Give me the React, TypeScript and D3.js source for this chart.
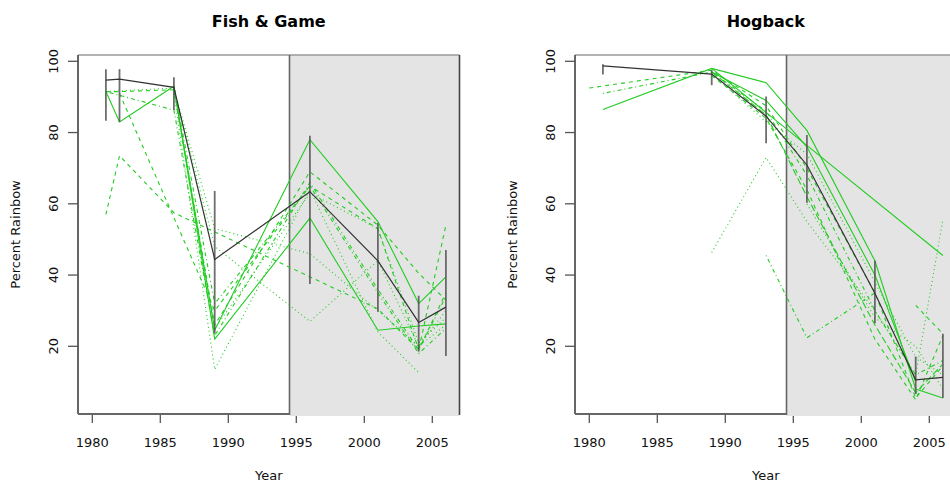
import React from "react";
import * as d3 from "d3";

// ---------- Data ----------
const xTicks = [1980, 1985, 1990, 1995, 2000, 2005];
const yTicks = [20, 40, 60, 80, 100];
const panelTitles = ["Fish & Game", "Hogback"];

// Fish & Game
const fgYears = [1981, 1982, 1986, 1989, 1996, 2001, 2004, 2006];
const fgMean = [94.7, 95, 92.7, 44.4, 63.4, 44, 26.7, 31];
const fgLow = [83.3, 83, 86.3, 23.7, 37.5, 29.7, 18.5, 17.3];
const fgHigh = [97.8, 97.8, 95.5, 63.6, 79.1, 54.7, 34.2, 47];
const fgSiteYears = [1981, 1982, 1986, 1989, 1996, 2001, 2004, 2006];
const fgSites: (number | null)[][] = [
  [91.5, 83, 93, 24.5, 78, 55, 32, 39.5],
  [91.5, 91.5, 92, 26, 69, 54, 40.5, 33],
  [91.5, null, 86.3, 23, 66, 36, 19, 34],
  [57, 73.5, 57.5, null, null, 30.5, 19, 54],
  [null, null, 92, 53, 46, 30, 20, 26],
  [null, null, 93, 22, 56, 24.5, 25.7, 26.3],
  [null, null, 91, 13.5, 64, 24, 12.6, null],
  [null, null, 92, 48, 27, 44, 20, 30],
  [null, 91, null, 30, 65, 53, 19, 35],
  [null, null, 93, 32, 65, 35, 18, 25],
  [91.5, null, 92.5, 25, 63, 53, 21, 28],
];
const fgTypes = ["solid", "dashed", "dotdash", "dashed", "dotted", "solid", "dotted", "dotted", "dashed", "dotdash", "dotted"];

// Hogback
const hbYears = [1981, 1989, 1993, 1996, 2001, 2004, 2006];
const hbMean = [98.7, 96.4, 84.6, 70.9, 34.9, 10.6, 11.3];
const hbLow = [96.3, 93.3, 77, 60.3, 26.5, 6.6, 5.5];
const hbHigh = [99.2, 97.6, 90.1, 79.3, 44, 17.1, 23.5];
const hbSiteYears = [1980, 1981, 1989, 1993, 1996, 2001, 2004, 2006];
const hbSites: (number | null)[][] = [
  [null, 86.5, 98, 94, 80.6, 44, 8, 5.5],
  [null, null, 98, null, null, null, null, 45.5],
  [92.5, null, 97.5, 87.5, 70, 35, 5.5, 14.5],
  [null, 91, 97, 86, 68, 30, 12, 16],
  [null, null, 46.3, 73, 55, 30, 12, 55.5],
  [null, null, null, 45.5, 22.4, 35, null, null],
  [null, null, 97, 89, 76, 40, 10, null],
  [null, null, 96, 84, 64, 22, 5, 23],
  [null, null, 97, 85, 62, 26, 7, 15],
  [null, null, 96.5, 83, 74, 38, 17, 12],
  [null, null, null, null, null, null, 31.5, 23.5],
  [null, null, null, null, 60, 28, 20, 8],
];
const hbTypes = ["solid", "solid", "dashed", "dotdash", "dotted", "dotdash", "solid", "dashed", "longdash", "dotted", "dashed", "dotted"];

// ---------- Styling ----------
const dashMap: Record<string, string | undefined> = {
  solid: undefined,
  dashed: "4,4",
  dotted: "1,3",
  dotdash: "1,3,4,3",
  longdash: "7,3",
};
const GREEN = "#22cc22";
const FONT = "DejaVu Sans, Liberation Sans, sans-serif";

type PanelProps = {
  dx: number;
  title: string;
  meanYears: number[];
  mean: number[];
  low: number[];
  high: number[];
  siteYears: number[];
  sites: (number | null)[][];
  types: string[];
};

function Panel({ dx, title, meanYears, mean, low, high, siteYears, sites, types }: PanelProps) {
  const x = d3.scaleLinear().domain([1980, 2005]).range([92.3 + dx, 432.3 + dx]);
  const y = d3.scaleLinear().domain([20, 100]).range([346.3, 61.3]);
  const left = 78 + dx;
  const top = 55;
  const bottom = 414;
  const boxRight = x(1994.5);
  const right = x(2007);
  const cx = (left + right) / 2;
  const cy = (top + bottom) / 2;

  const line = d3
    .line<[number, number]>()
    .x((d) => x(d[0]))
    .y((d) => y(d[1]));

  return (
    <g>
      {/* x ticks */}
      {xTicks.map((t) => (
        <line key={"xt" + t} x1={x(t)} x2={x(t)} y1={bottom} y2={bottom + 9} stroke="#555" strokeWidth={1.3} />
      ))}
      {/* gray region */}
      <rect x={boxRight} y={top} width={right - boxRight} height={bottom + 2 - top} fill="#e4e4e4" />
      {/* frame */}
      <line x1={left} x2={right} y1={top} y2={top} stroke="#9a9a9a" strokeWidth={1.3} />
      <line x1={left} x2={left} y1={top} y2={bottom} stroke="#666" strokeWidth={2} />
      <line x1={left} x2={boxRight} y1={bottom} y2={bottom} stroke="#666" strokeWidth={2} />
      <line x1={boxRight} x2={boxRight} y1={top} y2={bottom + 1} stroke="#666" strokeWidth={1.6} />
      <line x1={right} x2={right} y1={top} y2={bottom + 1} stroke="#444" strokeWidth={1.6} />

      {/* y ticks */}
      {yTicks.map((t) => (
        <line key={"yt" + t} x1={left - 10} x2={left} y1={y(t)} y2={y(t)} stroke="#555" strokeWidth={1.3} />
      ))}
      {yTicks.map((t) => (
        <text
          key={"yl" + t}
          transform={`translate(${left - 20},${y(t)}) rotate(-90)`}
          textAnchor="middle"
          fontFamily={FONT}
          fontSize={13}
          fill="#111"
        >
          {t}
        </text>
      ))}
      {xTicks.map((t) => (
        <text key={"xl" + t} x={x(t)} y={447} textAnchor="middle" fontFamily={FONT} fontSize={13} fill="#111">
          {t}
        </text>
      ))}

      {/* site lines */}
      {sites.map((vals, i) => {
        const pts: [number, number][] = [];
        vals.forEach((v, j) => {
          if (v != null) pts.push([siteYears[j], v]);
        });
        return (
          <path
            key={"s" + i}
            d={line(pts) || ""}
            fill="none"
            stroke={GREEN}
            strokeWidth={1.1}
            strokeDasharray={dashMap[types[i]]}
          />
        );
      })}

      {/* error bars */}
      {meanYears.map((yr, i) => (
        <line
          key={"eb" + i}
          x1={x(yr)}
          x2={x(yr)}
          y1={y(low[i])}
          y2={y(high[i])}
          stroke="#555"
          strokeOpacity={0.85}
          strokeWidth={1.8}
        />
      ))}
      {/* mean line */}
      <path
        d={line(meanYears.map((yr, i) => [yr, mean[i]] as [number, number])) || ""}
        fill="none"
        stroke="#333"
        strokeWidth={1.2}
      />

      {/* titles & labels */}
      <text x={cx} y={27} textAnchor="middle" fontFamily={FONT} fontWeight="bold" fontSize={16} fill="#000">
        {title}
      </text>
      <text x={cx} y={480} textAnchor="middle" fontFamily={FONT} fontSize={13} fill="#111">
        Year
      </text>
      <text
        transform={`translate(${left - 58},${cy}) rotate(-90)`}
        textAnchor="middle"
        fontFamily={FONT}
        fontSize={13}
        fill="#111"
      >
        Percent Rainbow
      </text>
    </g>
  );
}

export default function App() {
  return (
    <svg
      width={950}
      height={483}
      style={{ position: "absolute", left: 0, top: 0, background: "#fff" }}
    >
      <rect x={0} y={0} width={950} height={483} fill="#fff" />
      <Panel
        dx={0}
        title={panelTitles[0]}
        meanYears={fgYears}
        mean={fgMean}
        low={fgLow}
        high={fgHigh}
        siteYears={fgSiteYears}
        sites={fgSites}
        types={fgTypes}
      />
      <Panel
        dx={497}
        title={panelTitles[1]}
        meanYears={hbYears}
        mean={hbMean}
        low={hbLow}
        high={hbHigh}
        siteYears={hbSiteYears}
        sites={hbSites}
        types={hbTypes}
      />
    </svg>
  );
}
